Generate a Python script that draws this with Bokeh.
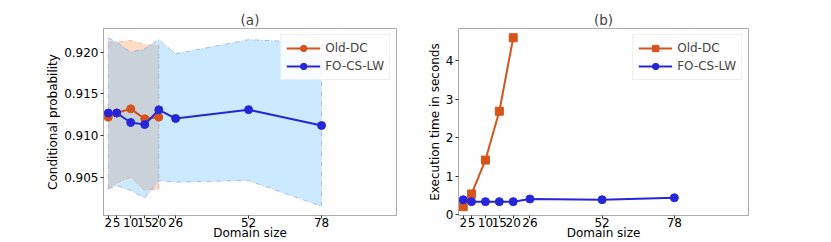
from bokeh.plotting import figure
from bokeh.layouts import row
from bokeh.models import FixedTicker, NumeralTickFormatter, Range1d
from bokeh.embed import file_html
from bokeh.resources import INLINE

# ---- data ----
domain_ticks = [2, 5, 10, 15, 20, 26, 52, 78]

old_x = [2, 5, 10, 15, 20]
old_prob = [0.9122, 0.9127, 0.9132, 0.9120, 0.9122]
old_upper = [0.9212, 0.9212, 0.9214, 0.9209, 0.9208]
old_lower = [0.9036, 0.9043, 0.9050, 0.9034, 0.9036]

fo_x = [2, 5, 10, 15, 20, 26, 52, 78]
fo_prob = [0.9127, 0.9127, 0.91156, 0.91132, 0.91308, 0.91204, 0.9131, 0.9112]
fo_upper = [0.9217, 0.9212, 0.9200, 0.9204, 0.9215, 0.9198, 0.9215, 0.9211]
fo_lower = [0.9036, 0.9040, 0.9034, 0.9025, 0.9046, 0.9044, 0.9046, 0.9015]

old_time = [0.21, 0.54, 1.42, 2.69, 4.60]
fo_time = [0.39, 0.34, 0.34, 0.34, 0.34, 0.41, 0.39, 0.44]

prob_ticks = [0.905, 0.910, 0.915, 0.920]
time_ticks = [0, 1, 2, 3, 4]

ORANGE = "#d5531c"
BLUE = "#2626d9"
FONT = "DejaVu Sans"


def style(p, ylabel, yticks, fmt=None):
    p.title.align = "center"
    p.title.text_font = FONT
    p.title.text_font_size = "13.5px"
    p.title.text_font_style = "normal"
    p.title.offset = 0
    p.title.standoff = 2
    p.outline_line_color = "#aaaaaa"
    p.outline_line_width = 1
    p.xgrid.visible = False
    p.ygrid.visible = False
    for ax in (p.xaxis[0], p.yaxis[0]):
        ax.axis_line_color = "#aaaaaa"
        ax.major_tick_line_color = "#333333"
        ax.minor_tick_line_color = None
        ax.major_tick_in = 0
        ax.major_tick_out = 3
        ax.major_label_text_font = FONT
        ax.major_label_text_font_size = "12px"
        ax.major_label_text_color = "black"
        ax.axis_label_text_font = FONT
        ax.axis_label_text_font_size = "12px"
        ax.axis_label_text_font_style = "normal"
        ax.axis_label_text_color = "black"
    p.xaxis.ticker = FixedTicker(ticks=domain_ticks)
    p.xaxis.axis_label = "Domain size"
    p.xaxis.major_label_standoff = -1
    p.xaxis.axis_label_standoff = -4
    p.yaxis.ticker = FixedTicker(ticks=yticks)
    p.yaxis.axis_label = ylabel
    p.yaxis.major_label_standoff = 2
    p.yaxis.axis_label_standoff = 1
    if fmt:
        p.yaxis.formatter = NumeralTickFormatter(format=fmt)
    lg = p.legend[0]
    lg.location = "top_right"
    lg.margin = 6
    lg.padding = 5
    lg.spacing = 2
    lg.label_text_font = FONT
    lg.label_text_font_size = "12px"
    lg.label_height = 16
    lg.glyph_height = 16
    lg.glyph_width = 34
    lg.border_line_color = "#dddddd"
    lg.background_fill_alpha = 0.85


# ---- panel (a) ----
pa = figure(width=424, height=242, title="(a)", output_backend="svg",
            toolbar_location=None, x_range=Range1d(0.3, 104.7),
            y_range=Range1d(0.9004, 0.92284),
            min_border_left=103, min_border_right=28,
            min_border_top=28, min_border_bottom=27)
pa.varea(x=old_x, y1=old_lower, y2=old_upper, fill_color="#fddcc6", fill_alpha=1.0)
pa.varea(x=fo_x, y1=fo_lower, y2=fo_upper, fill_color="#64beff", fill_alpha=0.33)
pa.line(old_x, old_upper, line_color="#f2a07e", line_dash="5 2 1 2", line_width=1, line_alpha=0.7)
pa.line(old_x, old_lower, line_color="#f2a07e", line_dash="5 2 1 2", line_width=1, line_alpha=0.7)
pa.line(fo_x, fo_upper, line_color="#8c9cf2", line_dash="5 2 1 2", line_width=1, line_alpha=0.7)
pa.line(fo_x, fo_lower, line_color="#8c9cf2", line_dash="5 2 1 2", line_width=1, line_alpha=0.7)
pa.line([old_x[-1], old_x[-1]], [old_lower[-1], old_upper[-1]], line_color="#b0a0b0",
        line_dash="5 2 1 2", line_width=1, line_alpha=0.7)
pa.line([fo_x[0], fo_x[0]], [fo_lower[0], fo_upper[0]], line_color="#b0a0d0",
        line_dash="5 2 1 2", line_width=1, line_alpha=0.7)
pa.line([fo_x[-1], fo_x[-1]], [fo_lower[-1], fo_upper[-1]], line_color="#8c9cf2",
        line_dash="5 2 1 2", line_width=1, line_alpha=0.7)
pa.line(old_x, old_prob, line_color=ORANGE, line_width=2, legend_label="Old-DC")
pa.scatter(old_x, old_prob, marker="circle", size=8, fill_color=ORANGE, line_color=ORANGE,
           legend_label="Old-DC")
pa.line(fo_x, fo_prob, line_color=BLUE, line_width=2, legend_label="FO-CS-LW")
pa.scatter(fo_x, fo_prob, marker="circle", size=8, fill_color=BLUE, line_color=BLUE,
           legend_label="FO-CS-LW")
style(pa, "Conditional probability", prob_ticks, fmt="0.000")

# ---- panel (b) ----
pb = figure(width=399, height=242, title="(b)", output_backend="svg",
            toolbar_location=None, x_range=Range1d(0.3, 104.7),
            y_range=Range1d(-0.02, 4.84),
            min_border_left=32, min_border_right=75,
            min_border_top=28, min_border_bottom=27)
pb.line(old_x, old_time, line_color=ORANGE, line_width=2, legend_label="Old-DC")
pb.scatter(old_x, old_time, marker="square", size=8, fill_color=ORANGE, line_color=ORANGE,
           legend_label="Old-DC")
pb.line(fo_x, fo_time, line_color=BLUE, line_width=2, legend_label="FO-CS-LW")
pb.scatter(fo_x, fo_time, marker="circle", size=8, fill_color=BLUE, line_color=BLUE,
           legend_label="FO-CS-LW")
style(pb, "Execution time in seconds", time_ticks)

layout = row(pa, pb, spacing=0)
open("out.html", "w").write(file_html(layout, INLINE))
